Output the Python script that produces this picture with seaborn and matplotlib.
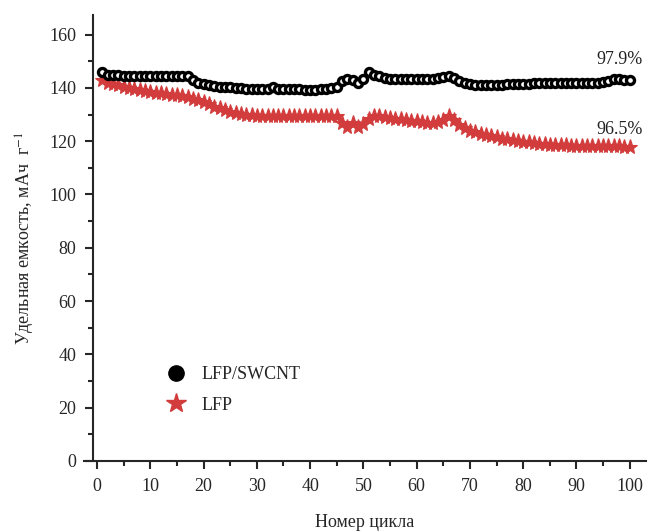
import matplotlib
matplotlib.use("Agg")
import matplotlib.pyplot as plt
from matplotlib.lines import Line2D
from matplotlib.ticker import MultipleLocator
import numpy as np
import seaborn as sns

cycles = np.arange(1, 101)

lfp_swcnt = [
    146.0, 145.0, 144.8, 144.7, 144.6, 144.6, 144.5, 144.5, 144.5, 144.4,
    144.4, 144.3, 144.3, 144.3, 144.3, 144.4, 144.6, 143.0, 142.0, 141.5,
    141.0, 140.8, 140.5, 140.3, 140.2, 140.0, 139.8, 139.7, 139.6, 139.6,
    139.5, 139.6, 140.2, 139.7, 139.5, 139.4, 139.4, 139.4, 139.3, 139.3,
    139.3, 139.4, 139.6, 139.8, 140.5, 142.5, 143.5, 142.8, 141.8, 143.5,
    146.0, 145.0, 144.3, 143.8, 143.5, 143.4, 143.3, 143.2, 143.2, 143.2,
    143.3, 143.4, 143.5, 143.7, 144.0, 144.5, 143.6, 142.6, 141.8, 141.3,
    141.0, 140.9, 141.0, 141.1, 141.2, 141.2, 141.3, 141.4, 141.4, 141.5,
    141.6, 141.7, 141.7, 141.8, 141.8, 141.8, 141.8, 141.8, 141.8, 141.8,
    141.8, 141.9, 141.9, 142.0, 142.2, 142.5, 143.2, 143.3, 143.1, 142.8,
]

lfp = [
    143.0, 142.0, 141.5, 141.0, 140.5, 140.0, 139.6, 139.2, 138.8, 138.5,
    138.2, 137.9, 137.6, 137.4, 137.2, 136.9, 136.6, 136.0, 135.3, 134.6,
    133.8, 133.0, 132.3, 131.7, 131.1, 130.6, 130.2, 129.9, 129.7, 129.6,
    129.5, 129.5, 129.4, 129.4, 129.4, 129.4, 129.4, 129.4, 129.4, 129.4,
    129.4, 129.4, 129.4, 129.4, 129.3, 127.0, 125.5, 127.0, 125.5, 126.5,
    128.5, 129.3, 129.5, 129.2, 128.8, 128.5, 128.2, 128.0, 127.7, 127.5,
    127.2, 127.0, 127.0, 127.3, 128.0, 129.5, 127.8, 126.0, 124.8, 124.0,
    123.3, 122.7, 122.2, 121.8, 121.4, 121.0, 120.7, 120.4, 120.1, 119.8,
    119.5, 119.3, 119.1, 118.9, 118.7, 118.6, 118.5, 118.4, 118.3, 118.2,
    118.2, 118.2, 118.1, 118.1, 118.1, 118.0, 118.0, 118.0, 117.9, 117.8,
]

retention_labels = ["97.9%", "96.5%"]
retention_y = [150.5, 124.5]

sns.set_style("ticks")
plt.rcParams["font.family"] = ["Liberation Serif", "DejaVu Serif"]
plt.rcParams["mathtext.fontset"] = "stix"
plt.rcParams["font.size"] = 13

red = "#d23c3c"

fig = plt.figure(figsize=(6.49, 5.31), dpi=100)
ax = fig.add_axes([0.129, 0.132, 0.866, 0.840])

sns.lineplot(x=cycles, y=lfp, ax=ax, color=red, linewidth=2,
             marker="*", markersize=11, markeredgecolor=red,
             markerfacecolor=red, markeredgewidth=0.8)
sns.lineplot(x=cycles, y=lfp_swcnt, ax=ax, color="black", linewidth=2,
             marker="o", markersize=5.8, markerfacecolor="white",
             markeredgecolor="black", markeredgewidth=2.4)

for lab, yv in zip(retention_labels, retention_y):
    ax.text(98, yv, lab, ha="center", va="center", fontsize=13, color="#222222")

ax.set_xlim(-2.5, 103)
ax.set_ylim(0, 167.4)
ax.spines["left"].set_position(("data", -0.75))
ax.spines["left"].set_bounds(0, 167.4)
for s in ["top", "right"]:
    ax.spines[s].set_visible(False)
for s in ["left", "bottom"]:
    ax.spines[s].set_linewidth(1.5)

ax.xaxis.set_major_locator(MultipleLocator(10))
ax.xaxis.set_minor_locator(MultipleLocator(5))
ax.yaxis.set_major_locator(MultipleLocator(20))
ax.yaxis.set_minor_locator(MultipleLocator(10))
ax.tick_params(which="major", direction="out", length=6, width=1.5, pad=6, labelsize=13)
ax.tick_params(which="minor", direction="out", length=3.5, width=1.5)
ax.set_xticks(range(0, 101, 10))

ax.set_xlabel("Номер цикла", fontsize=13, labelpad=14)
ax.set_ylabel("Удельная емкость, мАч  г$^{-1}$", fontsize=13, labelpad=9)

handles = [
    Line2D([], [], linestyle="none", marker="o", markersize=11,
           markerfacecolor="black", markeredgecolor="black"),
    Line2D([], [], linestyle="none", marker="*", markersize=15,
           markerfacecolor=red, markeredgecolor=red),
]
ax.legend(handles, ["LFP/SWCNT", "LFP"], loc="center left",
          bbox_to_anchor=(0.12, 0.159), frameon=False, fontsize=13,
          handlelength=1.0, handletextpad=0.9, labelspacing=0.75)

fig.savefig("out.png", dpi=100)
